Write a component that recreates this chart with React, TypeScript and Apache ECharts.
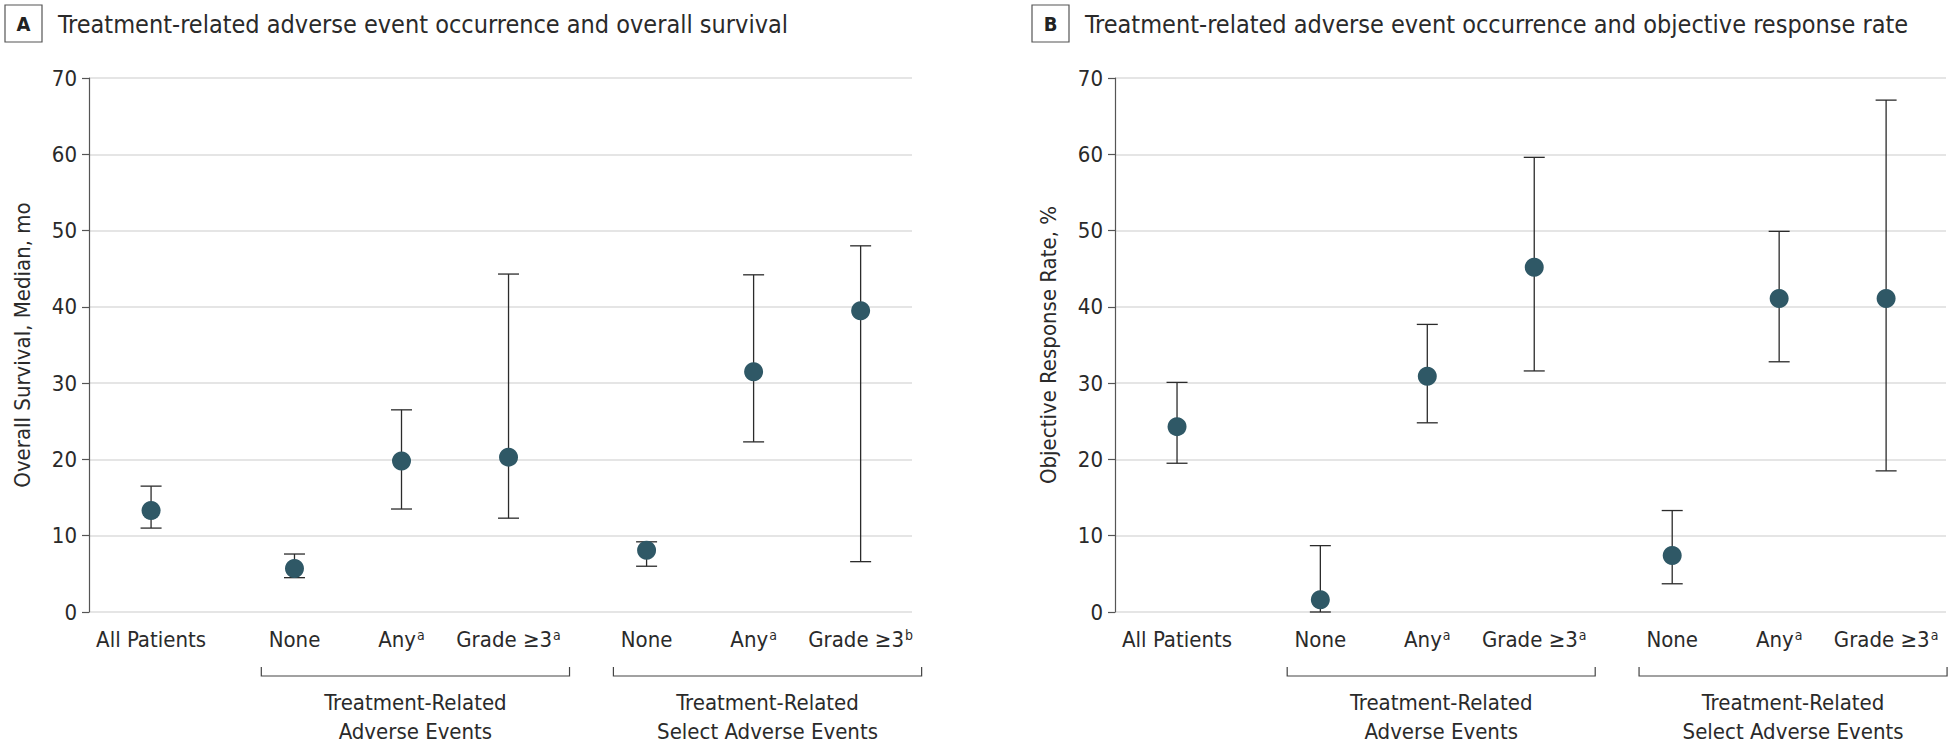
import React, { useEffect, useRef } from "react";
import * as echarts from "echarts";

// ---- Data ----
const positions = [0.58, 1.92, 2.92, 3.92, 5.21, 6.21, 7.21];
const labelsA = ["All Patients", "None", "Any{sup|a}", "Grade ≥3{sup|a}", "None", "Any{sup|a}", "Grade ≥3{sup|b}"];
const labelsB = ["All Patients", "None", "Any{sup|a}", "Grade ≥3{sup|a}", "None", "Any{sup|a}", "Grade ≥3{sup|a}"];

const osMedian = [13.3, 5.7, 19.8, 20.3, 8.1, 31.5, 39.5];
const osLow = [11.0, 4.5, 13.5, 12.3, 6.0, 22.3, 6.6];
const osHigh = [16.5, 7.6, 26.5, 44.3, 9.2, 44.2, 48.0];

const orrValue = [24.3, 1.6, 30.9, 45.2, 7.4, 41.1, 41.1];
const orrLow = [19.5, 0.0, 24.8, 31.6, 3.7, 32.8, 18.5];
const orrHigh = [30.1, 8.7, 37.7, 59.6, 13.3, 49.9, 67.1];

const groupFrom = [1, 4];
const groupTo = [3, 6];
const groupLabels = ["Treatment-Related\nAdverse Events", "Treatment-Related\nSelect Adverse Events"];

const yTicks = [0, 10, 20, 30, 40, 50, 60, 70];

const FONT = "'Liberation Sans Narrow', 'DejaVu Sans Condensed', 'Roboto', sans-serif";
const TXT = "#2a2a2a";
const DOT = "#2f5866";
const BAR = "#2b2b2b";

function App() {
  const ref = useRef<HTMLDivElement>(null);
  useEffect(() => {
    document.body.style.margin = "0";
    const chart = echarts.init(ref.current!, null, { renderer: "svg" });

    const yAxisFor = (gridIndex: number, name: string) => ({
      type: "value",
      gridIndex,
      min: yTicks[0],
      max: yTicks[yTicks.length - 1],
      interval: 10,
      name,
      nameLocation: "middle",
      nameGap: 56,
      nameTextStyle: { fontSize: 22, color: TXT, fontFamily: FONT },
      axisLine: { show: true, lineStyle: { color: "#555", width: 1.2 } },
      axisTick: { show: true, length: 7, lineStyle: { color: "#555", width: 1.2 } },
      axisLabel: { fontSize: 22, color: TXT, fontFamily: FONT, margin: 12 },
      splitLine: { show: true, lineStyle: { color: "#dcdcdc", width: 1.5 } },
    });

    const xAxisFor = (gridIndex: number, max: number, labels: string[]) => ({
      type: "value",
      gridIndex,
      min: 0,
      max,
      axisLine: { show: false },
      axisTick: { show: false },
      splitLine: { show: false },
      axisLabel: {
        customValues: positions,
        margin: 16,
        fontSize: 22,
        color: TXT,
        fontFamily: FONT,
        formatter: (v: number) => {
          const i = positions.findIndex((p) => Math.abs(p - v) < 1e-6);
          return i >= 0 ? labels[i] : "";
        },
        rich: {
          sup: { fontSize: 14, color: TXT, fontFamily: FONT, verticalAlign: "top", lineHeight: 14, padding: [0, 0, 10, 1] },
        },
      },
    });

    const errSeries = (idx: number, lo: number[], hi: number[]) => ({
      type: "custom",
      xAxisIndex: idx,
      yAxisIndex: idx,
      clip: false,
      data: positions.map((p, i) => [p, lo[i], hi[i]]),
      encode: { x: 0, y: [1, 2] },
      renderItem: (params: any, api: any) => {
        const x = api.value(0);
        const a = api.coord([x, api.value(1)]);
        const b = api.coord([x, api.value(2)]);
        const hw = 10.5;
        const style = { stroke: BAR, lineWidth: 1.3 };
        return {
          type: "group",
          children: [
            { type: "line", shape: { x1: a[0], y1: a[1], x2: b[0], y2: b[1] }, style },
            { type: "line", shape: { x1: a[0] - hw, y1: a[1], x2: a[0] + hw, y2: a[1] }, style },
            { type: "line", shape: { x1: b[0] - hw, y1: b[1], x2: b[0] + hw, y2: b[1] }, style },
          ],
        };
      },
      z: 2,
    });

    const dotSeries = (idx: number, vals: number[]) => ({
      type: "scatter",
      xAxisIndex: idx,
      yAxisIndex: idx,
      symbol: "circle",
      symbolSize: 19,
      itemStyle: { color: DOT, opacity: 1 },
      data: positions.map((p, i) => [p, vals[i]]),
      z: 3,
    });

    const bracketSeries = (idx: number) => ({
      type: "custom",
      xAxisIndex: idx,
      yAxisIndex: idx,
      clip: false,
      silent: true,
      data: groupFrom.map((f, i) => [positions[f], positions[groupTo[i]], 0]),
      encode: { x: [0, 1], y: 2 },
      renderItem: (params: any, api: any) => {
        const p1 = api.coord([api.value(0) - 0.31, 0]);
        const p2 = api.coord([api.value(1) + 0.57, 0]);
        const yb = p1[1] + 64;
        const style = { stroke: "#444", lineWidth: 1.2, fill: "none" };
        return {
          type: "group",
          children: [
            {
              type: "polyline",
              shape: { points: [[p1[0], yb - 9], [p1[0], yb], [p2[0], yb], [p2[0], yb - 9]] },
              style,
            },
            {
              type: "text",
              style: {
                x: (p1[0] + p2[0]) / 2,
                y: yb + 12,
                text: groupLabels[params.dataIndex],
                fontSize: 22,
                lineHeight: 29,
                fontFamily: FONT,
                fill: TXT,
                align: "center",
                verticalAlign: "top",
              },
            },
          ],
        };
      },
    });

    const titleGroup = (x: number, letter: string, text: string) => [
      { type: "rect", shape: { x: x, y: 5, width: 37, height: 37 }, style: { fill: "#fff", stroke: "#555", lineWidth: 1.2 } },
      {
        type: "text",
        style: { x: x + 18.5, y: 24, text: letter, fontSize: 20, fontWeight: "bold", fontFamily: FONT, fill: "#222", align: "center", verticalAlign: "middle" },
      },
      {
        type: "text",
        style: { x: x + 53, y: 24, text, fontSize: 25, fontFamily: FONT, fill: TXT, align: "left", verticalAlign: "middle" },
      },
    ];

    chart.setOption({
      animation: false,
      textStyle: { fontFamily: FONT },
      grid: [
        { left: 89, top: 78, right: 1040, bottom: 142 },
        { left: 1115, top: 78, right: 6, bottom: 142 },
      ],
      xAxis: [xAxisFor(0, 7.69, labelsA), xAxisFor(1, 7.77, labelsB)],
      yAxis: [yAxisFor(0, "Overall Survival, Median, mo"), yAxisFor(1, "Objective Response Rate, %")],
      series: [
        errSeries(0, osLow, osHigh),
        dotSeries(0, osMedian),
        bracketSeries(0),
        errSeries(1, orrLow, orrHigh),
        dotSeries(1, orrValue),
        bracketSeries(1),
      ],
      graphic: [
        ...titleGroup(5, "A", "Treatment-related adverse event occurrence and overall survival"),
        ...titleGroup(1032, "B", "Treatment-related adverse event occurrence and objective response rate"),
      ],
    });
    return () => chart.dispose();
  }, []);
  return <div ref={ref} style={{ width: 1952, height: 754 }} />;
}

export default App;
